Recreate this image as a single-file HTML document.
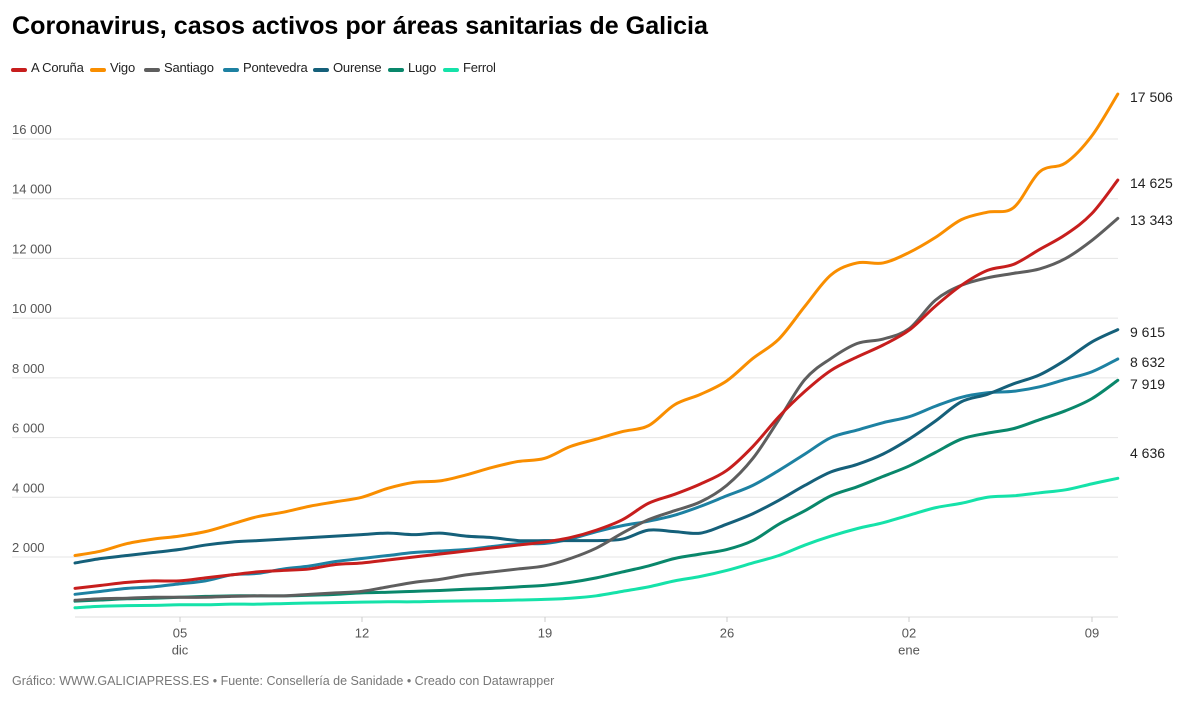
<!DOCTYPE html>
<html><head><meta charset="utf-8"><style>
body{margin:0;width:1199px;height:709px;background:#fff;font-family:"Liberation Sans",Arial,sans-serif;overflow:hidden;position:relative}
.t{position:absolute;left:12px;top:12px;font-size:25.1px;font-weight:bold;color:#000}
.lg{position:absolute;top:60px;font-size:13px;letter-spacing:-0.2px;color:#222}
.lg i{position:absolute;left:-20px;top:8px;width:16px;height:4px;border-radius:2px}
.f{position:absolute;left:12px;top:674px;font-size:12.5px;color:#777}
svg{position:absolute;left:0;top:0}
</style></head><body>
<div class="t">Coronavirus, casos activos por áreas sanitarias de Galicia</div>
<div class="lg" style="left:31px"><i style="background:#c71e1d"></i>A Coruña</div>
<div class="lg" style="left:110px"><i style="background:#f98e00"></i>Vigo</div>
<div class="lg" style="left:164px"><i style="background:#5e5e5e"></i>Santiago</div>
<div class="lg" style="left:243px"><i style="background:#1d81a2"></i>Pontevedra</div>
<div class="lg" style="left:333px"><i style="background:#15607a"></i>Ourense</div>
<div class="lg" style="left:408px"><i style="background:#09876b"></i>Lugo</div>
<div class="lg" style="left:463px"><i style="background:#15e2a9"></i>Ferrol</div>
<svg id="s" width="1199" height="709" font-family="Liberation Sans, Arial, sans-serif"></svg>
<div class="f">Gráfico: WWW.GALICIAPRESS.ES • Fuente: Consellería de Sanidade • Creado con Datawrapper</div>
<script>
var s=document.getElementById('s'),h='';
function Y(v){return 557-(v-2000)*0.029857;}
function X(i){return 75+i*26.07;}
for(var g=2000;g<=16000;g+=2000){var y=Y(g);h+='<line x1="12" x2="1118" y1="'+y+'" y2="'+y+'" stroke="#e4e4e4"/>';
h+='<text x="12" y="'+(y-5)+'" font-size="13" fill="#555">'+(g/1000)+' 000</text>';}
h+='<line x1="75" x2="1118" y1="617" y2="617" stroke="#ddd"/>';
[[180,'05','dic'],[362,'12'],[545,'19'],[727,'26'],[909,'02','ene'],[1092,'09']].forEach(function(d){
h+='<line x1="'+d[0]+'" x2="'+d[0]+'" y1="617" y2="622" stroke="#ccc"/>';
h+='<text x="'+d[0]+'" y="626" dy="0.9em" font-size="13" fill="#555" text-anchor="middle">'+d[1]+'</text>';
if(d[2])h+='<text x="'+d[0]+'" y="643" dy="0.9em" font-size="13" fill="#555" text-anchor="middle">'+d[2]+'</text>';});
var D=[
['#15e2a9',[300,350,370,380,400,400,420,420,440,460,470,490,500,500,520,530,540,560,580,620,700,850,1000,1200,1350,1550,1800,2050,2400,2700,2950,3150,3400,3650,3800,4000,4050,4150,4250,4450,4636],'4 636'],
['#09876b',[520,560,600,620,650,680,700,700,700,720,750,800,820,850,880,920,950,1000,1050,1150,1300,1500,1700,1950,2100,2250,2550,3100,3550,4050,4350,4700,5050,5500,5950,6150,6300,6600,6900,7300,7919],'7 919'],
['#1d81a2',[750,850,950,1000,1100,1200,1400,1450,1600,1700,1850,1950,2050,2150,2200,2250,2350,2450,2450,2600,2850,3050,3200,3400,3700,4050,4400,4900,5450,6000,6250,6500,6700,7050,7350,7500,7550,7700,7950,8200,8632],'8 632'],
['#15607a',[1800,1950,2050,2150,2250,2400,2500,2550,2600,2650,2700,2750,2800,2750,2800,2700,2650,2550,2550,2550,2550,2600,2900,2850,2800,3100,3450,3900,4400,4850,5100,5450,5950,6550,7200,7450,7800,8100,8600,9200,9615],'9 615'],
['#5e5e5e',[550,600,620,650,650,650,680,700,700,750,800,850,1000,1150,1250,1400,1500,1600,1700,1950,2300,2800,3250,3550,3850,4400,5300,6600,7950,8650,9150,9300,9650,10600,11100,11350,11500,11650,12000,12600,13343],'13 343'],
['#c71e1d',[950,1050,1150,1200,1200,1300,1400,1500,1550,1600,1750,1800,1900,2000,2100,2200,2300,2400,2500,2650,2900,3250,3800,4100,4450,4900,5700,6700,7550,8250,8700,9100,9600,10400,11100,11600,11800,12300,12800,13500,14625],'14 625'],
['#f98e00',[2050,2200,2450,2600,2700,2850,3100,3350,3500,3700,3850,4000,4300,4500,4550,4750,5000,5200,5300,5700,5950,6200,6400,7100,7450,7900,8650,9300,10400,11450,11850,11850,12200,12700,13300,13550,13700,14900,15200,16100,17506],'17 506']];
var ly={'17 506':97,'14 625':183,'13 343':220,'9 615':332,'8 632':362,'7 919':384,'4 636':453};
D.forEach(function(d){var p=d[1].map(function(v,i){return [X(i),Y(v)];});
var str='M'+p[0][0]+','+p[0][1];
for(var i=0;i<p.length-1;i++){var a=p[i-1]||p[i],b=p[i],c=p[i+1],e=p[i+2]||c;
str+=' C'+(b[0]+(c[0]-a[0])/6)+','+(b[1]+(c[1]-a[1])/6)+' '+(c[0]-(e[0]-b[0])/6)+','+(c[1]-(e[1]-b[1])/6)+' '+c[0]+','+c[1];}
h+='<path d="'+str+'" fill="none" stroke="'+d[0]+'" stroke-width="3" stroke-linejoin="round" stroke-linecap="round"/>';
h+='<text x="1130" y="'+(ly[d[2]]+5)+'" font-size="14" fill="#222">'+d[2]+'</text>';});
s.innerHTML=h;
</script>
</body></html>
